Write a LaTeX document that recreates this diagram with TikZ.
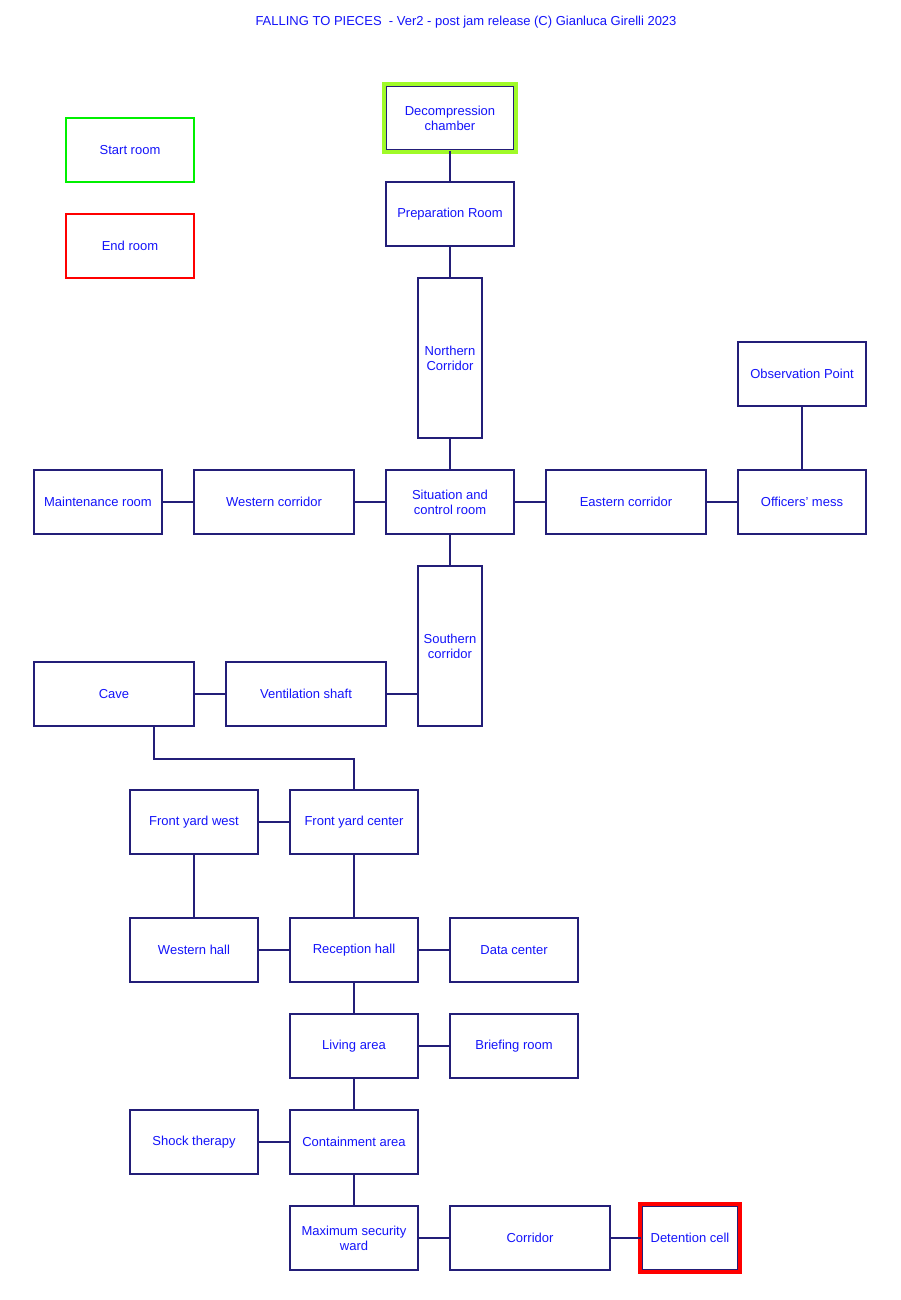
\documentclass[tikz,border=0pt]{standalone}
\usepackage{fontspec}
\setmainfont{Liberation Sans}
\usetikzlibrary{fit}
\definecolor{roomline}{RGB}{35,30,120}
\definecolor{roomtext}{RGB}{20,20,250}
\definecolor{startgreen}{RGB}{0,240,0}
\definecolor{framegreen}{RGB}{160,250,40}
\tikzset{
  room/.style={draw=roomline, line width=1.6pt, fill=white, text=roomtext, minimum width=128pt, minimum height=64pt, align=center, inner sep=1pt, font=\fontsize{13}{15}\selectfont},
  wide/.style={minimum width=160pt},
  tall/.style={minimum width=64pt, minimum height=160pt},
  door/.style={draw=roomline, line width=1.6pt},
  goal/.style={draw=#1, line width=4pt, inner sep=1.2pt}
}
\begin{document}
\begin{tikzpicture}[x=1pt, y=-1pt]
\useasboundingbox[fill=white] (0,0) rectangle (900,1300);

\node[text=roomtext, font=\fontsize{13}{15}\selectfont] (title) at (466,22) {FALLING TO PIECES \ - Ver2 - post jam release (C) Gianluca Girelli 2023};

% legend
\node[room, draw=startgreen] (SR) at (130,150) {Start room};
\node[room, draw=red] (ER) at (130,246) {End room};

% north wing
\node[room] (DC) at (450,118) {Decompression\\chamber};
\node[room] (PR) at (450,214) {Preparation Room};
\node[room, tall] (NC) at (450,358) {Northern\\Corridor};
\node[room] (OP) at (802,374) {Observation Point};

% central row
\node[room] (MR) at (98,502) {Maintenance room};
\node[room, wide] (WC) at (274,502) {Western corridor};
\node[room] (SC) at (450,502) {Situation and\\control room};
\node[room, wide] (EC) at (626,502) {Eastern corridor};
\node[room] (OM) at (802,502) {Officers' mess};

% south wing
\node[room, tall] (SO) at (450,646) {Southern\\ corridor};
\node[room, wide] (CV) at (114,694) {Cave};
\node[room, wide] (VS) at (306,694) {Ventilation shaft};

\node[room] (FYW) at (194,822) {Front yard west};
\node[room] (FYC) at (354,822) {Front yard center};
\node[room] (WH) at (194,950) {Western hall};
\node[room] (RH) at (354,950) {Reception hall};
\node[room] (DA) at (514,950) {Data center};
\node[room] (LA) at (354,1046) {Living area};
\node[room] (BR) at (514,1046) {Briefing room};
\node[room] (ST) at (194,1142) {Shock therapy};
\node[room] (CA) at (354,1142) {Containment area};
\node[room] (MS) at (354,1238) {Maximum security\\ward};
\node[room, wide] (CO) at (530,1238) {Corridor};
\node[room, minimum width=96pt] (DT) at (690,1238) {Detention cell};

% start and end frames
\node[goal=framegreen, fit=(DC)] (DCframe) {};
\node[goal=red, fit=(DT)] (DTframe) {};

% doors
\draw[door] (DC) -- (PR);
\draw[door] (PR) -- (NC);
\draw[door] (NC) -- (SC);
\draw[door] (SC) -- (SO);
\draw[door] (MR) -- (WC);
\draw[door] (WC) -- (SC);
\draw[door] (SC) -- (EC);
\draw[door] (EC) -- (OM);
\draw[door] (OM) -- (OP);
\draw[door] (VS.east) -- (VS.east -| SO.west);
\draw[door] (CV) -- (VS);
\draw[door] ([xshift=40pt]CV.south) -- ++(0,32) -| (FYC.north);
\draw[door] (FYW) -- (FYC);
\draw[door] (FYW) -- (WH);
\draw[door] (FYC) -- (RH);
\draw[door] (WH) -- (RH);
\draw[door] (RH) -- (DA);
\draw[door] (RH) -- (LA);
\draw[door] (LA) -- (BR);
\draw[door] (LA) -- (CA);
\draw[door] (ST) -- (CA);
\draw[door] (CA) -- (MS);
\draw[door] (MS) -- (CO);
\draw[door] (CO) -- (DT);
\end{tikzpicture}
\end{document}
